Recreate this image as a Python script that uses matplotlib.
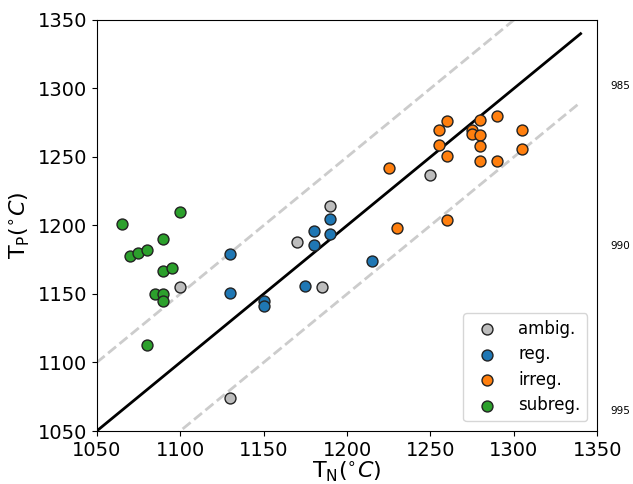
import matplotlib
matplotlib.use("Agg")
import matplotlib.pyplot as plt
import numpy as np

# Nucleation temperature T_N vs peak temperature T_P, grouped by morphology
ambig_tn = [1100, 1130, 1170, 1185, 1190, 1250]
ambig_tp = [1155, 1074, 1188, 1155, 1214, 1237]

reg_tn = [1130, 1130, 1150, 1150, 1175, 1180, 1180, 1190, 1190, 1215]
reg_tp = [1179, 1151, 1145, 1141, 1156, 1186, 1196, 1205, 1194, 1174]

irreg_tn = [1225, 1230, 1255, 1260, 1255, 1260, 1260, 1275, 1275,
            1280, 1280, 1280, 1280, 1290, 1290, 1305, 1305]
irreg_tp = [1242, 1198, 1270, 1276, 1259, 1251, 1204, 1270, 1267,
            1277, 1266, 1258, 1247, 1280, 1247, 1270, 1256]

subreg_tn = [1065, 1100, 1090, 1070, 1075, 1080, 1090, 1095, 1085, 1090, 1090, 1080]
subreg_tp = [1201, 1210, 1190, 1178, 1180, 1182, 1167, 1169, 1150, 1150, 1145, 1113]

side_labels = ["985", "990", "995"]

fig = plt.figure(figsize=(6.33, 4.84), dpi=100)
ax = fig.add_axes([0.1528, 0.1095, 0.7908, 0.8492])

# 1:1 reference line and +/-50 band
ref = np.array([1050, 1340])
ax.plot(ref, ref, color="black", lw=2, zorder=2)
ax.plot(ref, ref + 50, color="#cccccc", lw=2, ls="--", zorder=1)
ax.plot(ref, ref - 50, color="#cccccc", lw=2, ls="--", zorder=1)

mk = dict(s=62, edgecolors="#222222", linewidths=1, zorder=3)
ax.scatter(ambig_tn, ambig_tp, color="#bdbdbd", label="ambig.", **mk)
ax.scatter(reg_tn, reg_tp, color="#1f77b4", label="reg.", **mk)
ax.scatter(irreg_tn, irreg_tp, color="#ff7f0e", label="irreg.", **mk)
ax.scatter(subreg_tn, subreg_tp, color="#2ca02c", label="subreg.", **mk)

ax.set_xlim(1050, 1350)
ax.set_ylim(1050, 1350)
ax.set_xticks(np.arange(1050, 1351, 50))
ax.set_yticks(np.arange(1050, 1351, 50))
ax.tick_params(labelsize=14)
ax.set_xlabel(r"$\mathrm{T_N}(^{\circ}C)$", fontsize=16, labelpad=0)
ax.set_ylabel(r"$\mathrm{T_P}(^{\circ}C)$", fontsize=16, labelpad=4)

ax.legend(loc="lower right", fontsize=12, borderpad=0.4, handletextpad=0.9,
          labelspacing=0.45, borderaxespad=0.6)

for lab, yf in zip(side_labels, [0.822, 0.492, 0.151]):
    fig.text(0.964, yf, lab, fontsize=7.5, va="center", ha="left")

fig.savefig("out.png", dpi=100)
